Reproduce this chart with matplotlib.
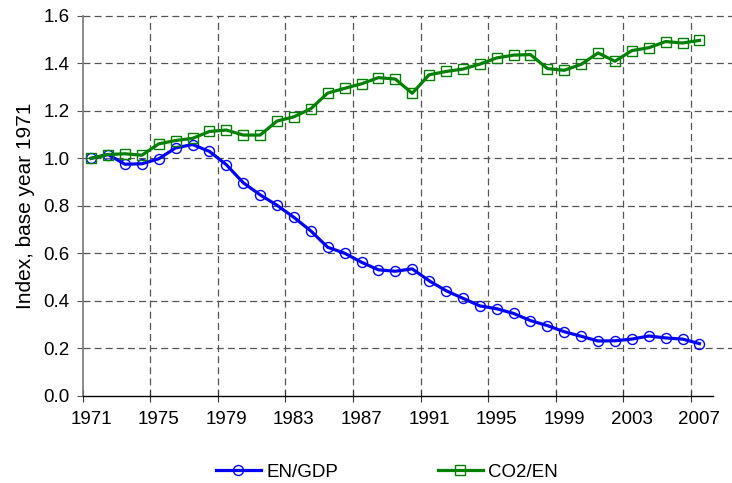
import matplotlib
matplotlib.use("Agg")
import matplotlib.pyplot as plt

years = list(range(1971, 2008))
en_gdp = [1.00, 1.016, 0.975, 0.977, 0.998, 1.044, 1.058, 1.029, 0.973, 0.897,
          0.846, 0.802, 0.751, 0.694, 0.625, 0.600, 0.562, 0.530, 0.524, 0.534,
          0.484, 0.442, 0.410, 0.378, 0.366, 0.346, 0.316, 0.295, 0.269, 0.250,
          0.230, 0.231, 0.238, 0.251, 0.243, 0.238, 0.219]
co2_en = [1.00, 1.016, 1.019, 1.013, 1.061, 1.075, 1.084, 1.113, 1.119, 1.098,
          1.098, 1.157, 1.175, 1.209, 1.275, 1.295, 1.314, 1.340, 1.334, 1.274,
          1.352, 1.366, 1.376, 1.397, 1.423, 1.435, 1.437, 1.378, 1.371, 1.396,
          1.444, 1.409, 1.454, 1.466, 1.492, 1.486, 1.497]
label_years = list(range(1971, 2008, 4))
y_ticks = [0.0, 0.2, 0.4, 0.6, 0.8, 1.0, 1.2, 1.4, 1.6]

plt.rcParams['font.family'] = ['Liberation Sans', 'DejaVu Sans']
plt.rcParams['lines.scale_dashes'] = False

fig = plt.figure(figsize=(7.32, 4.83), dpi=100)
ax = fig.add_axes([0.113, 0.181, 0.861, 0.786])

blue = '#0000FF'
green = '#008000'
fs = 13.5

ax.set_xlim(1970.5, 2007.8)
ax.set_ylim(0, 1.6)

# grid lines
grid_kw = dict(color='#555555', lw=0.9, dashes=(5, 3), zorder=1)
for yv in y_ticks[1:]:
    ax.plot([0, 1.03], [yv, yv], transform=ax.get_yaxis_transform(),
            clip_on=False, **grid_kw)
for xv in label_years[1:]:
    ax.plot([xv - 0.5, xv - 0.5], [0, 1.6], **grid_kw)

ax.plot(years, en_gdp, color=blue, lw=2.3, marker='o', ms=7.2,
        mfc='none', mec=blue, mew=1.0, label='EN/GDP', zorder=3)
ax.plot(years, co2_en, color=green, lw=2.3, marker='s', ms=7.2,
        mfc='none', mec=green, mew=1.0, label='CO2/EN', zorder=3)

# x ticks at category boundaries, labels at category centers
ax.set_xticks([y - 0.5 for y in label_years])
ax.set_xticklabels([''] * len(label_years))
ax.set_xticks(label_years, minor=True)
ax.set_xticklabels([str(y) for y in label_years], minor=True)
ax.tick_params(axis='x', which='major', direction='inout', length=8,
               width=0.8, color='#333333')
ax.tick_params(axis='x', which='minor', length=0, pad=11, labelsize=fs)

ax.set_yticks(y_ticks)
ax.set_yticklabels([f'{v:.1f}' for v in y_ticks])
ax.tick_params(axis='y', direction='out', length=4.5, width=0.8,
               color='#555555', pad=5, labelsize=fs)

for s in ['top', 'right']:
    ax.spines[s].set_visible(False)
ax.spines['left'].set_color('#777777')
ax.spines['left'].set_linewidth(1.2)
ax.spines['bottom'].set_color('black')
ax.spines['bottom'].set_linewidth(1.0)

ax.set_ylabel('Index, base year 1971', fontsize=15, labelpad=6)

fig.legend(loc='center', bbox_to_anchor=(387 / 732, 1 - 472 / 483),
           ncol=2, frameon=False, fontsize=fs, handlelength=2.4,
           columnspacing=5.3, handletextpad=0.3)

fig.savefig('out.png', dpi=100)
